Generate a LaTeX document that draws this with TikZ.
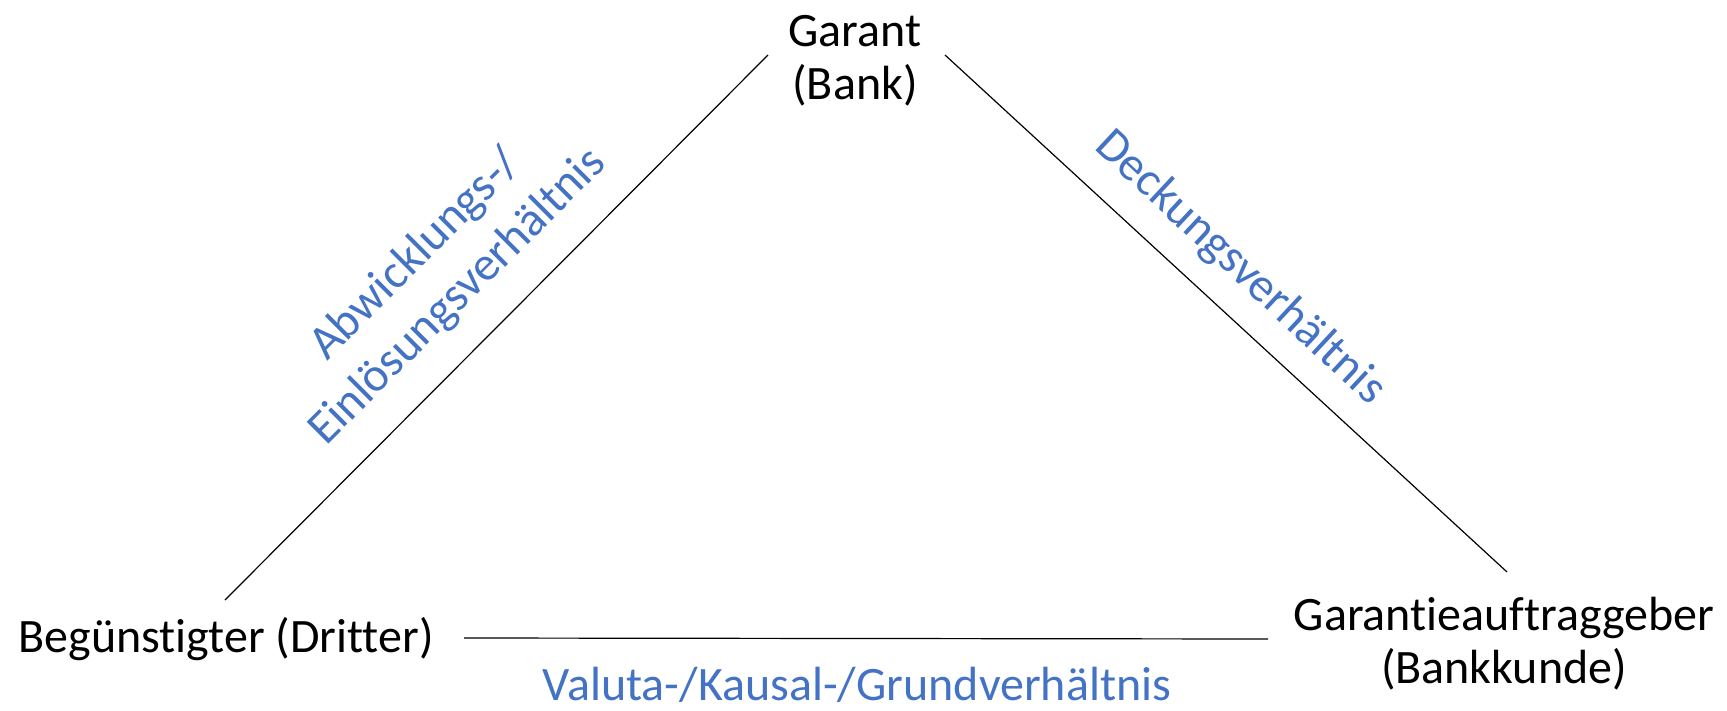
\documentclass[tikz,border=0pt]{standalone}
\usepackage{fontspec}
\setmainfont{Carlito}[Ligatures=NoCommon]
\definecolor{labelblue}{RGB}{68,114,196}
\begin{document}
\begin{tikzpicture}[x=0.5pt,y=-0.5pt,
  party/.style={font=\fontsize{24}{26.5}\selectfont, inner sep=0pt, align=center, text=black},
  rel/.style={font=\fontsize{24}{29.5}\selectfont, inner sep=0pt, align=center, text=labelblue},
  link/.style={draw=black, line width=0.6pt}]
\useasboundingbox (0,0) rectangle (1727,711);
\node[party] (garant) at (855,61) {Garant\\(Bank)};
\node[party, anchor=base] (beg) at (226,652) {Begünstigter (Dritter)};
\node[party] (auftr) at (1504,644) {Garantieauftraggeber\\(Bankkunde)};
\coordinate (l1) at (225,600);
\coordinate (l2) at (768,55);
\coordinate (r1) at (945,55);
\coordinate (r2) at (1507,572);
\coordinate (h1) at (464,638);
\coordinate (h2) at (1268,639);
\draw[link] (l1) -- (l2);
\draw[link] (r1) -- (r2);
\draw[link] (h1) -- (h2);
\node[rel, rotate=45] (abw) at (437,276) {Abwicklungs-/\\Einlösungsverhältnis};
\node[rel, rotate=-43] (deck) at (1240,268) {Deckungsverhältnis};
\node[rel, anchor=base] (val) at (857,700) {Valuta-/Kausal-/Grundverhältnis};
\end{tikzpicture}
\end{document}
